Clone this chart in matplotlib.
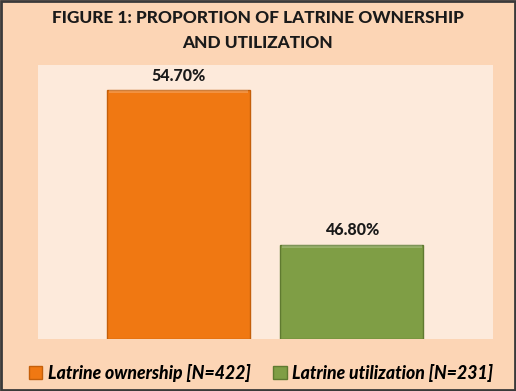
import matplotlib
matplotlib.use('Agg')
import matplotlib.pyplot as plt
from matplotlib.patches import Rectangle, Patch

# datos del grafico
series = ['Latrine ownership [N=422]', 'Latrine utilization [N=231]']
valores = [54.7, 46.8]
etiquetas = ['54.70%', '46.80%']
colores = ['#F07812', '#7F9E45']
bordes = ['#C45F0A', '#5F7A30']
titulo = 'FIGURE 1: PROPORTION OF LATRINE OWNERSHIP\nAND UTILIZATION'

plt.rcParams['font.family'] = ['Lato', 'DejaVu Sans']

fig = plt.figure(figsize=(5.16, 3.91), dpi=100)
fig.patch.set_facecolor('#FCD5B5')

ax = fig.add_axes([0.0736, 0.133, 0.8818, 0.701])
ax.set_facecolor('#FDEADB')

x = list(range(len(valores)))
ancho = 0.824
ax.bar(x, [v - 42 for v in valores], bottom=42, width=ancho, color=colores,
       edgecolor=bordes, linewidth=1.0, zorder=2)
# brillo superior (efecto bisel)
for xi, v in zip(x, valores):
    ax.bar(xi, 0.15, bottom=v - 0.15, width=ancho - 0.02, color='white', alpha=0.2,
           linewidth=0, zorder=3)

for xi, v, t in zip(x, valores, etiquetas):
    ax.text(xi, v + 0.35, t, ha='center', va='bottom', fontsize=11.5,
            fontweight='black', color='#1a1a1a')

ax.set_ylim(42, 56)
ax.set_xlim(-0.81, 1.813)
ax.set_xticks([])
ax.set_yticks([])
for s in ax.spines.values():
    s.set_visible(False)

fig.text(0.5, 0.975, titulo, ha='center', va='top', fontsize=12.4,
         fontweight='black', color='#1a1a1a', linespacing=1.7)

handles = [Patch(facecolor=c, edgecolor=b, label=s) for s, c, b in zip(series, colores, bordes)]
fig.legend(handles=handles, loc='center', bbox_to_anchor=(0.506, 0.047), ncol=2,
           frameon=False, prop={'size': 12.7, 'weight': 'black', 'style': 'italic'},
           handlelength=0.75, handleheight=0.75, handletextpad=0.3, columnspacing=1.3)

# borde exterior
fig.patches.append(Rectangle((0.002, 0.003), 0.996, 0.994, transform=fig.transFigure,
                             fill=False, edgecolor='#3a3a3a', linewidth=2))

fig.savefig('out.png', dpi=100, facecolor=fig.get_facecolor())
